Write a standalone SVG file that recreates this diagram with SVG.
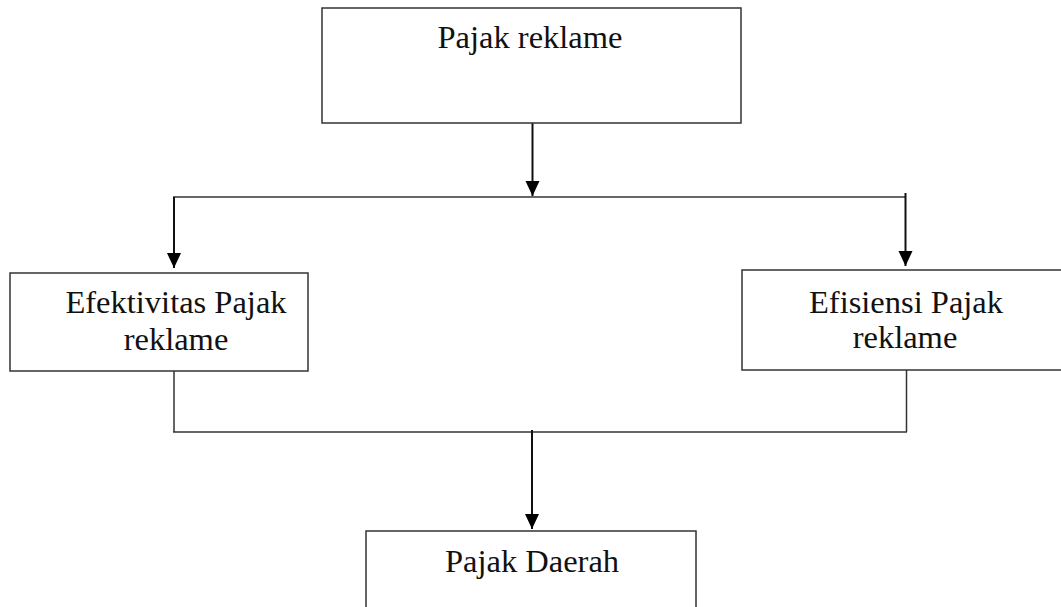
<svg xmlns="http://www.w3.org/2000/svg" width="1061" height="607" viewBox="0 0 1061 607">
<style>
.box{fill:#fff;stroke:#333;stroke-width:1.5}
.ln{fill:none;stroke:#333;stroke-width:1.5}
.ar{fill:none;stroke:#111;stroke-width:2}
text{font-family:"Liberation Serif","Times New Roman",serif;font-size:32.5px;fill:#111;text-anchor:middle}
</style>
<defs>
<marker id="ah" markerUnits="userSpaceOnUse" markerWidth="16" markerHeight="16" viewBox="0 0 16 16" refX="15" refY="8" orient="auto">
<path d="M0,1 L15,8 L0,15 Z" fill="#000"/>
</marker>
</defs>
<g id="connectors">
<line class="ar" x1="532.5" y1="123" x2="532.5" y2="196" marker-end="url(#ah)"/>
<line class="ln" x1="173" y1="197" x2="906" y2="197"/>
<line class="ar" x1="174" y1="197" x2="174" y2="268" marker-end="url(#ah)"/>
<line class="ar" x1="905.5" y1="193" x2="905.5" y2="266" marker-end="url(#ah)"/>
<line class="ln" x1="174" y1="371" x2="174" y2="432"/>
<line class="ln" x1="906.5" y1="370" x2="906.5" y2="432"/>
<line class="ln" x1="173" y1="432" x2="907" y2="432"/>
<line class="ar" x1="532" y1="430" x2="532" y2="529" marker-end="url(#ah)"/>
</g>
<g id="pajak-reklame">
<rect class="box" x="322" y="8" width="419" height="115"/>
<text x="530" y="48">Pajak reklame</text>
</g>
<g id="efektivitas">
<rect class="box" x="10" y="273" width="298" height="98"/>
<text x="176" y="313">Efektivitas Pajak</text>
<text x="176" y="350">reklame</text>
</g>
<g id="efisiensi">
<rect class="box" x="742" y="270" width="322" height="100"/>
<text x="906" y="313">Efisiensi Pajak</text>
<text x="905" y="348">reklame</text>
</g>
<g id="pajak-daerah">
<rect class="box" x="366" y="531" width="330" height="90"/>
<text x="532" y="572">Pajak Daerah</text>
</g>
</svg>
